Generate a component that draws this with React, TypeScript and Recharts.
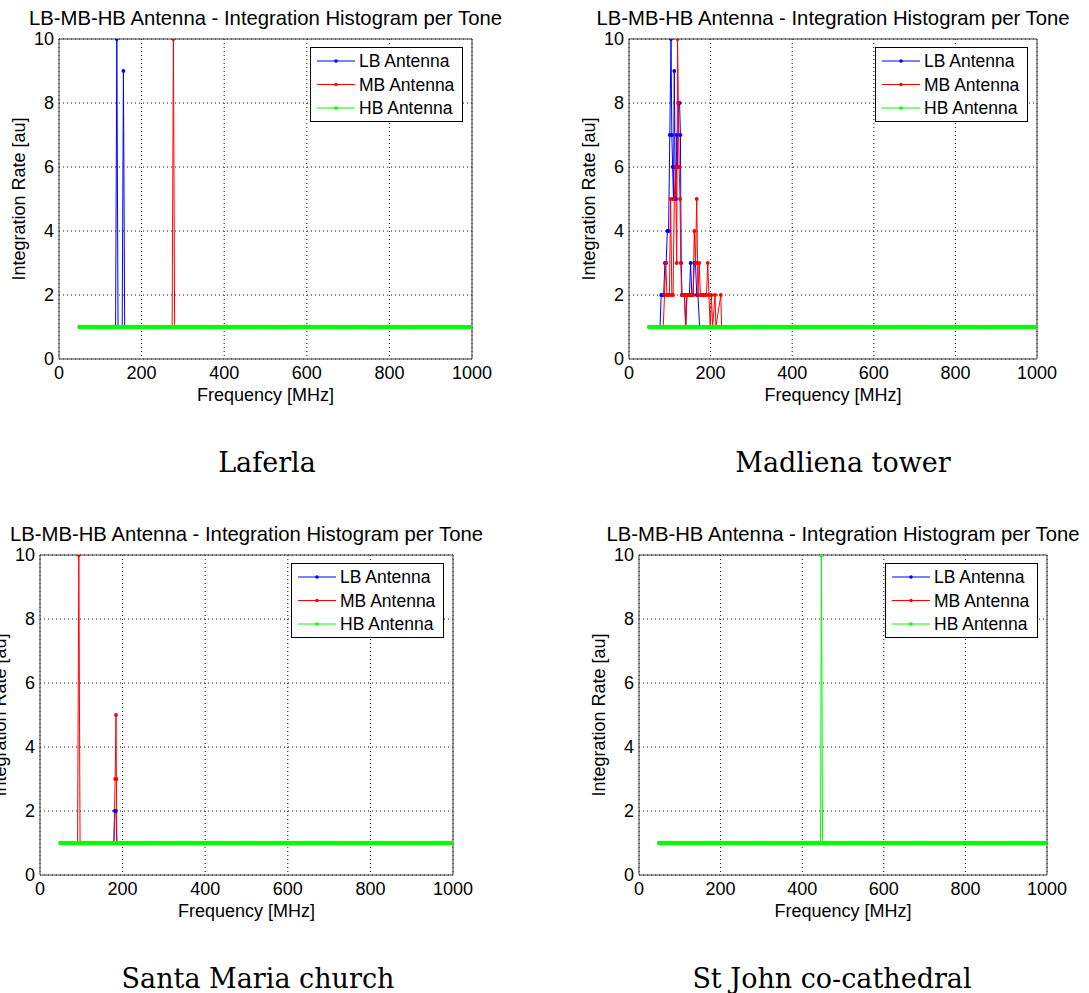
import { LineChart, Line, XAxis, YAxis, CartesianGrid, ReferenceArea, Legend } from "recharts";

type Pt = [number, number];

const SANS = "'Liberation Sans', Arial, Helvetica, sans-serif";
const SERIF = "'DejaVu Serif', 'Liberation Serif', serif";

const TITLE = "LB-MB-HB Antenna - Integration Histogram per Tone";
const X_LABEL = "Frequency [MHz]";
const Y_LABEL = "Integration Rate [au]";
const SERIES_NAMES = ["LB Antenna", "MB Antenna", "HB Antenna"];
const SERIES_COLORS = ["#0000ff", "#ff0000", "#00ff00"];

const X_TICKS = [0, 200, 400, 600, 800, 1000];
const Y_TICKS = [0, 2, 4, 6, 8, 10];

// tones swept by the receiver (MHz)
const TONES_MHZ = [
  50, 55, 60, 65, 70, 75, 80, 85, 90, 95, 100, 105, 110, 115, 120, 125, 130, 135, 140, 145,
  150, 155, 160, 165, 170, 175, 180, 185, 190, 195, 200, 205, 210, 215, 220, 225, 230, 235, 240, 245,
  250, 255, 260, 265, 270, 275, 280, 285, 290, 295, 300, 305, 310, 315, 320, 325, 330, 335, 340, 345,
  350, 355, 360, 365, 370, 375, 380, 385, 390, 395, 400, 405, 410, 415, 420, 425, 430, 435, 440, 445,
  450, 455, 460, 465, 470, 475, 480, 485, 490, 495, 500, 505, 510, 515, 520, 525, 530, 535, 540, 545,
  550, 555, 560, 565, 570, 575, 580, 585, 590, 595, 600, 605, 610, 615, 620, 625, 630, 635, 640, 645,
  650, 655, 660, 665, 670, 675, 680, 685, 690, 695, 700, 705, 710, 715, 720, 725, 730, 735, 740, 745,
  750, 755, 760, 765, 770, 775, 780, 785, 790, 795, 800, 805, 810, 815, 820, 825, 830, 835, 840, 845,
  850, 855, 860, 865, 870, 875, 880, 885, 890, 895, 900, 905, 910, 915, 920, 925, 930, 935, 940, 945,
  950, 955, 960, 965, 970, 975, 980, 985, 990, 995, 1000,
];
// every tone is integrated at least once
const FLOOR_RATE = 1;

// Laferla
const laferlaLB: Pt[] = [[50, 1], [137, 1], [140, 10], [143, 1], [153, 1], [156, 9], [159, 1], [1000, 1]];
const laferlaMB: Pt[] = [[50, 1], [274, 1], [277, 10], [280, 1], [1000, 1]];
const laferlaHBPeaks: Pt[] = [];

// Madliena tower
const madlienaLB: Pt[] = [
  [50, 1], [76, 1], [79, 2], [82, 2], [85, 2], [88, 3], [91, 3], [94, 4], [97, 4], [100, 7],
  [103, 10], [105, 7], [107, 6], [109, 5], [111, 9], [113, 6], [115, 5], [117, 7], [119, 6], [121, 8],
  [124, 8], [126, 7], [128, 3], [130, 2], [133, 2], [136, 2], [139, 1], [142, 2], [145, 2], [148, 2],
  [151, 3], [154, 2], [157, 2], [160, 3], [163, 3], [166, 2], [169, 2], [173, 1], [1000, 1],
];
const madlienaMB: Pt[] = [
  [50, 1], [84, 1], [87, 2], [90, 3], [93, 2], [96, 2], [99, 2], [102, 5], [105, 2], [108, 2],
  [111, 5], [114, 6], [117, 3], [119, 10], [121, 8], [123, 6], [125, 5], [127, 3], [129, 2], [133, 2],
  [136, 2], [139, 1], [142, 2], [145, 2], [148, 2], [151, 2], [154, 2], [157, 2], [160, 4], [163, 3],
  [166, 5], [169, 2], [172, 3], [175, 2], [178, 2], [181, 2], [184, 2], [187, 2], [190, 2], [193, 3],
  [196, 2], [199, 1], [202, 2], [205, 1], [211, 2], [213, 1], [225, 2], [227, 1], [1000, 1],
];
const madlienaHBPeaks: Pt[] = [];

// Santa Maria church
const santaMariaLB: Pt[] = [[50, 1], [179, 1], [181, 2], [184, 2], [186, 1], [1000, 1]];
const santaMariaMB: Pt[] = [[50, 1], [91, 1], [94, 10], [97, 1], [179, 1], [182, 3], [184, 5], [185, 3], [186, 1], [1000, 1]];
const santaMariaHBPeaks: Pt[] = [];

// St John co-cathedral
const stJohnLB: Pt[] = [[50, 1], [1000, 1]];
const stJohnMB: Pt[] = [[50, 1], [1000, 1]];
const stJohnHBPeaks: Pt[] = [[447, 10]];

const toRows = (pts: Pt[]) => pts.map(([f, v]) => ({ f, v }));

const hbRows = (peaks: Pt[]) => {
  const rows = TONES_MHZ.filter((f) => !peaks.some((p) => p[0] === f)).map((f) => ({ f, v: FLOOR_RATE }));
  peaks.forEach(([f, v]) => rows.push({ f, v }));
  return rows.sort((a, b) => a.f - b.f);
};

type PanelDef = {
  caption: string;
  lb: Pt[];
  mb: Pt[];
  hbPeaks: Pt[];
  chart: { x: number; y: number; w: number; h: number };
  plot: { l: number; r: number; t: number; b: number };
  captionX: number;
  captionY: number;
};

const PANELS: PanelDef[] = [
  {
    caption: "Laferla", lb: laferlaLB, mb: laferlaMB, hbPeaks: laferlaHBPeaks,
    chart: { x: 0, y: 0, w: 545, h: 420 }, plot: { l: 59, r: 472, t: 39, b: 359 },
    captionX: 267, captionY: 472,
  },
  {
    caption: "Madliena tower", lb: madlienaLB, mb: madlienaMB, hbPeaks: madlienaHBPeaks,
    chart: { x: 545, y: 0, w: 544, h: 420 }, plot: { l: 629, r: 1037, t: 39, b: 359 },
    captionX: 843, captionY: 472,
  },
  {
    caption: "Santa Maria church", lb: santaMariaLB, mb: santaMariaMB, hbPeaks: santaMariaHBPeaks,
    chart: { x: 0, y: 500, w: 545, h: 420 }, plot: { l: 40, r: 453, t: 555, b: 875 },
    captionX: 258, captionY: 988,
  },
  {
    caption: "St John co-cathedral", lb: stJohnLB, mb: stJohnMB, hbPeaks: stJohnHBPeaks,
    chart: { x: 545, y: 500, w: 544, h: 420 }, plot: { l: 639, r: 1047, t: 555, b: 875 },
    captionX: 832, captionY: 988,
  },
];

const LEGEND_W = 153;
const LEGEND_H = 75;

const renderLegend = (props: any) => {
  // keep plotting order (LB, MB, HB) instead of the alphabetical default
  const items = [...(props.payload || [])].sort(
    (a: any, b: any) => SERIES_NAMES.indexOf(a.value) - SERIES_NAMES.indexOf(b.value)
  );
  return (
    <svg width={LEGEND_W} height={LEGEND_H} style={{ display: "block" }}>
      <rect x={0.5} y={0.5} width={LEGEND_W - 1} height={LEGEND_H - 1} fill="#fff" stroke="#000" />
      {items.map((it: any, i: number) => {
        const cy = 14 + i * 23.5;
        return (
          <g key={it.value}>
            <line x1={7} x2={45} y1={cy} y2={cy} stroke={it.color} strokeWidth={1} />
            <circle cx={26} cy={cy} r={1.8} fill={it.color} />
            <text x={49} y={cy + 6.3} fontSize={17.5} fontFamily={SANS} fill="#000">
              {it.value}
            </text>
          </g>
        );
      })}
    </svg>
  );
};

function Panel({ p }: { p: PanelDef }) {
  const { chart, plot } = p;
  const series = [toRows(p.lb), toRows(p.mb), hbRows(p.hbPeaks)];
  const tickStyle = { fill: "#000", fontSize: 18, fontFamily: SANS };
  return (
    <div style={{ position: "absolute", left: chart.x, top: chart.y }}>
      <LineChart
        width={chart.w}
        height={chart.h}
        margin={{ top: plot.t - chart.y, right: chart.x + chart.w - plot.r, left: 0, bottom: 0 }}
      >
        <CartesianGrid stroke="#111" strokeDasharray="1 3" strokeWidth={1} />
        <XAxis
          type="number"
          dataKey="f"
          domain={[0, 1000]}
          ticks={X_TICKS}
          interval={0}
          allowDataOverflow
          height={chart.y + chart.h - plot.b}
          axisLine={false}
          tickLine={false}
          tickSize={0}
          tickMargin={7}
          tick={tickStyle}
        />
        <YAxis
          type="number"
          dataKey="v"
          domain={[0, 10]}
          ticks={Y_TICKS}
          interval={0}
          allowDataOverflow
          width={plot.l - chart.x}
          axisLine={false}
          tickLine={false}
          tickSize={0}
          tickMargin={5}
          tick={tickStyle}
        />
        {series.map((rows, i) => (
          <Line
            key={SERIES_NAMES[i]}
            data={rows}
            dataKey="v"
            name={SERIES_NAMES[i]}
            type="linear"
            stroke={SERIES_COLORS[i]}
            strokeWidth={1}
            dot={{ r: i === 2 ? 2.2 : 1.9, fill: SERIES_COLORS[i], stroke: "none", strokeWidth: 0 }}
            activeDot={false}
            isAnimationActive={false}
          />
        ))}
        <ReferenceArea x1={0} x2={1000} y1={0} y2={10} fill="none" stroke="#3c3c3c" strokeWidth={1} ifOverflow="visible" />
        <Legend
          layout="vertical"
          align="center"
          verticalAlign="middle"
          content={renderLegend}
          wrapperStyle={{
            left: plot.r - 9 - LEGEND_W - chart.x,
            top: plot.t + 8 - chart.y,
            width: LEGEND_W,
            height: LEGEND_H,
          }}
        />
      </LineChart>
    </div>
  );
}

export default function App() {
  return (
    <div style={{ position: "absolute", left: 0, top: 0, width: 1089, height: 993, overflow: "hidden", background: "#fff" }}>
      {PANELS.map((p) => (
        <Panel key={p.caption} p={p} />
      ))}
      <svg width={1089} height={993} style={{ position: "absolute", left: 0, top: 0, pointerEvents: "none" }}>
        {PANELS.map((p) => {
          const cx = (p.plot.l + p.plot.r) / 2;
          const cy = (p.plot.t + p.plot.b) / 2;
          const ly = p.plot.l - 34;
          return (
            <g key={p.caption}>
              <text x={cx} y={p.plot.t - 14} textAnchor="middle" fontSize={20.3} fontFamily={SANS} fill="#000">
                {TITLE}
              </text>
              <text x={cx} y={p.plot.b + 42} textAnchor="middle" fontSize={18} fontFamily={SANS} fill="#000">
                {X_LABEL}
              </text>
              <text
                x={ly}
                y={cy}
                textAnchor="middle"
                fontSize={18}
                fontFamily={SANS}
                fill="#000"
                transform={`rotate(-90, ${ly}, ${cy})`}
              >
                {Y_LABEL}
              </text>
              <text x={p.captionX} y={p.captionY} textAnchor="middle" fontSize={27} fontFamily={SERIF} fill="#000">
                {p.caption}
              </text>
            </g>
          );
        })}
      </svg>
    </div>
  );
}
